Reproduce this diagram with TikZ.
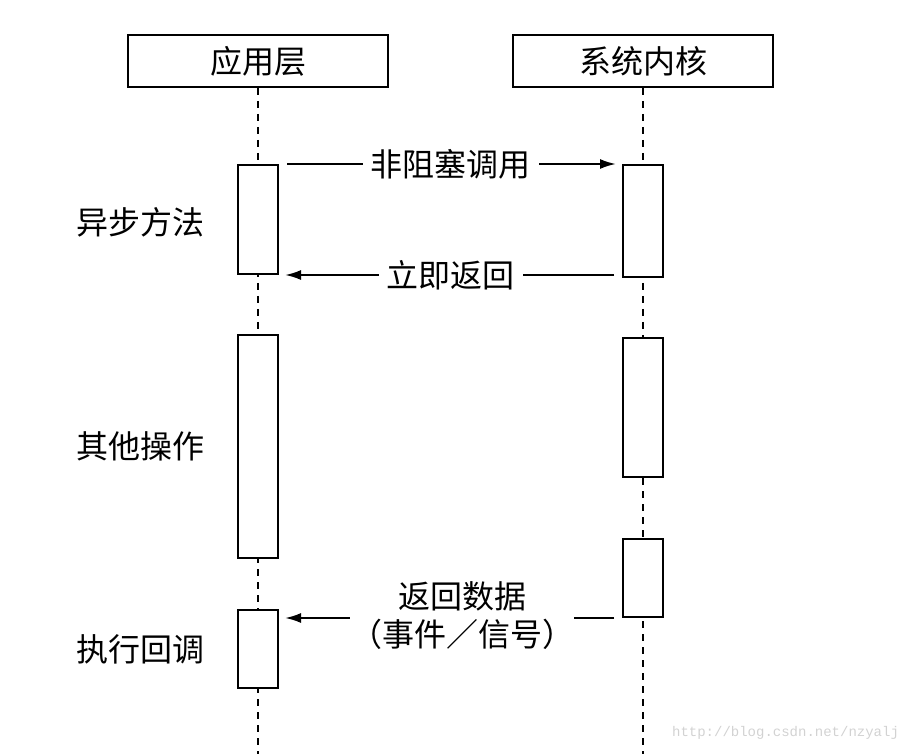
\documentclass[tikz,border=0pt]{standalone}
\usepackage{fontspec}
\setmainfont{Noto Sans CJK SC}
\newfontfamily\urlfont{Liberation Mono}
\usetikzlibrary{arrows.meta}
\tikzset{
  head/.style={draw,line width=1pt,minimum width=130pt,minimum height=26pt,inner sep=0pt},
  act/.style={draw,fill=white,line width=1pt,minimum width=20pt,inner sep=0pt},
  life/.style={line width=0.7pt,dash pattern=on 3.5pt off 3pt},
  msg/.style={line width=1pt,-{Latex[length=8pt,width=5pt]},shorten >=3pt,shorten <=4pt},
  lbl/.style={fill=white,inner xsep=4pt,inner ysep=1pt},
}
\begin{document}
\begin{tikzpicture}[x=0.5pt,y=-0.5pt,font=\fontsize{16}{19}\selectfont]
  \useasboundingbox (0,0) rectangle (916,754);
  \draw
    (258,61) node[head] (app){应用层}
    (643,61) node[head] (ker){系统内核};
  \coordinate (append) at (258,754);
  \coordinate (kerend) at (643,754);
  \draw[life] (app) -- (append);
  \draw[life] (ker) -- (kerend);
  % activations
  \node[act,minimum height=54.5pt] (a1) at (258,219.5) {};
  \node[act,minimum height=111.5pt] (a2) at (258,446.5) {};
  \node[act,minimum height=39pt] (a3) at (258,649) {};
  \node[act,minimum height=56pt] (k1) at (643,221) {};
  \node[act,minimum height=69.5pt] (k2) at (643,407.5) {};
  \node[act,minimum height=39pt] (k3) at (643,578) {};
  % messages
  \draw[msg] (a1.north east) -- (k1.north west) node[midway,lbl] (m1){非阻塞调用};
  \draw[msg] (k1.west |- a1.south) -- (a1.south east) node[midway,lbl] (m2){立即返回};
  \draw[msg] (k3.south west) -- (k3.south west -| a3.east);
  \node[lbl,inner xsep=0pt,align=center] (m3) at (462,616) {返回数据\\（事件／信号）};
  % phases
  \node[anchor=west] (p1) at (69,222) {异步方法};
  \node[anchor=west] (p2) at (69,446) {其他操作};
  \node[anchor=west] (p3) at (69,649) {执行回调};
  \node[anchor=east,text=gray!35,font=\urlfont\fontsize{7}{8}\selectfont] (url) at (906,733) {http://blog.csdn.net/nzyalj};
\end{tikzpicture}
\end{document}
